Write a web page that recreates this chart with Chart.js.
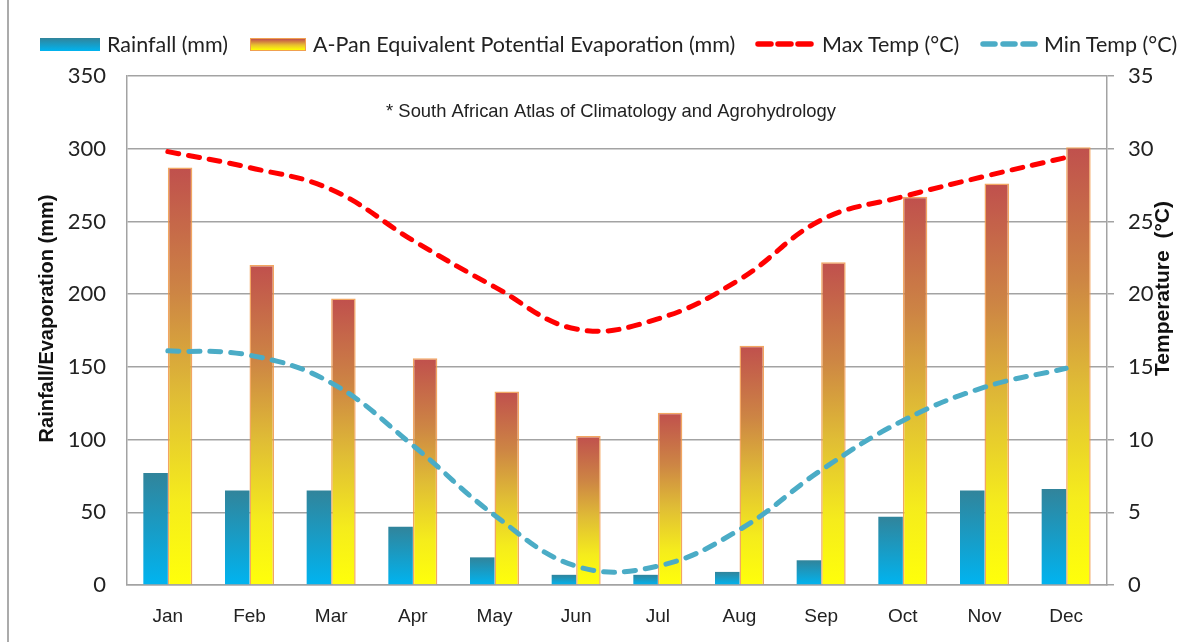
<!DOCTYPE html>
<html lang="en">
<head>
    <meta charset="UTF-8">
    <title>Rainfall, evaporation and temperature</title>
    <script src="https://cdn.jsdelivr.net/npm/chart.js"></script>
    <style>
        body {
            margin: 0;
            background: #fff;
        }
        .wrap {
            position: relative;
            width: 1182px;
            height: 642px;
            overflow: hidden;
        }
        .frame {
            position: absolute;
            left: 7px;
            top: 0;
            width: 2px;
            height: 642px;
            background: #ababab;
        }
        .legend .item {
            position: absolute;
            top: 31px;
            display: flex;
            align-items: center;
            font-family: Lato, sans-serif;
            font-size: 21.5px;
            color: #222;
            white-space: nowrap;
        }
        .legend .box {
            width: 60px;
            height: 13px;
            margin-right: 7px;
        }
        .legend svg {
            margin-right: 7px;
        }
        #chart {
            position: absolute;
            left: 0;
            top: 0;
        }
    </style>
</head>
<body>
    <div class="wrap">
        <div class="frame"></div>
        <canvas id="chart" width="1182" height="642"></canvas>
        <div class="legend">
            <div class="item" style="left: 40px;">
                <div class="box" style="background: linear-gradient(#31849b, #00b4f0);"></div>
                <span>Rainfall (mm)</span>
            </div>
            <div class="item" style="left: 250px;">
                <div class="box" style="width: 56px; background: linear-gradient(#c0504d, #e8c030 55%, #ffff00); border: 1px solid #f0a050; box-sizing: border-box;"></div>
                <span>A-Pan Equivalent Potential Evaporation (mm)</span>
            </div>
            <div class="item" style="left: 755px;">
                <svg width="60" height="12"><line x1="3" y1="6" x2="57" y2="6" stroke="#ff0000" stroke-width="5.5" stroke-linecap="round" stroke-dasharray="13 7"/></svg>
                <span>Max Temp (°C)</span>
            </div>
            <div class="item" style="left: 980px;">
                <svg width="58" height="12" style="margin-right: 6px;"><line x1="3" y1="6" x2="55" y2="6" stroke="#4bacc6" stroke-width="5.5" stroke-linecap="round" stroke-dasharray="12 8"/></svg>
                <span>Min Temp (°C)</span>
            </div>
        </div>
    </div>
    <script>
        const months = ['Jan', 'Feb', 'Mar', 'Apr', 'May', 'Jun', 'Jul', 'Aug', 'Sep', 'Oct', 'Nov', 'Dec'];
        const rainfall = [77, 65, 65, 40, 19, 7, 7, 9, 17, 47, 65, 66];
        const evaporation = [287, 220, 197, 156, 133, 102.5, 118.5, 164.5, 222, 267, 276, 301];
        const maxTemp = [29.8, 28.7, 27.2, 23.7, 20.5, 17.6, 18.3, 21.0, 25.1, 26.7, 28.1, 29.4];
        const minTemp = [16.1, 15.8, 13.9, 9.6, 4.8, 1.3, 1.3, 3.8, 7.9, 11.3, 13.6, 14.9];

        const leftTitle = 'Rainfall/Evaporation (mm)';
        const rightTitle = 'Temperature  (°C)';
        const note = '* South African Atlas of Climatology and Agrohydrology';

        // gradient runs from the top of each bar down to zero
        function barGradient(context, stops) {
            const chart = context.chart;
            if (!chart.chartArea || context.parsed == null) return stops[stops.length - 1][1];
            const y = chart.scales.y;
            const g = chart.ctx.createLinearGradient(0, y.getPixelForValue(context.parsed.y), 0, y.getPixelForValue(0));
            stops.forEach(s => g.addColorStop(s[0], s[1]));
            return g;
        }

        const rainStops = [[0, '#31849b'], [1, '#00b4f0']];
        const evapStops = [[0, '#c0504d'], [0.3, '#cd8544'], [0.55, '#e0bd35'], [0.8, '#f5ec1c'], [1, '#ffff0a']];

        const textPlugin = {
            id: 'textPlugin',
            afterDraw(chart) {
                const { ctx, chartArea } = chart;
                ctx.save();
                ctx.fillStyle = '#111';
                ctx.textAlign = 'center';
                ctx.textBaseline = 'middle';
                ctx.font = 'bold 20px "Liberation Sans"';
                ctx.save();
                ctx.translate(chartArea.left - 80, (chartArea.top + chartArea.bottom) / 2 - 12);
                ctx.rotate(-Math.PI / 2);
                ctx.fillText(leftTitle, 0, 0);
                ctx.restore();
                ctx.save();
                ctx.font = 'bold 21px "Liberation Sans"';
                ctx.translate(chartArea.right + 56, (chartArea.top + chartArea.bottom) / 2 - 42);
                ctx.rotate(-Math.PI / 2);
                ctx.fillText(rightTitle, 0, 0);
                ctx.restore();
                ctx.font = '18.4px "Liberation Sans"';
                ctx.fillStyle = '#222';
                ctx.fillText(note, (chartArea.left + chartArea.right) / 2 - 6, chartArea.top + 36);
                ctx.restore();
            }
        };

        const gridGrey = '#a3a3a3';

        new Chart(document.getElementById('chart'), {
            type: 'bar',
            data: {
                labels: months,
                datasets: [{
                    label: 'Max Temp (°C)',
                    type: 'line',
                    data: maxTemp,
                    yAxisID: 'y1',
                    borderColor: '#ff0000',
                    borderWidth: 5,
                    borderDash: [11, 10],
                    borderCapStyle: 'round',
                    tension: 0.4,
                    pointRadius: 0,
                    fill: false,
                    order: 1
                }, {
                    label: 'Min Temp (°C)',
                    type: 'line',
                    data: minTemp,
                    yAxisID: 'y1',
                    borderColor: '#4bacc6',
                    borderWidth: 5,
                    borderDash: [11, 10],
                    borderCapStyle: 'round',
                    tension: 0.4,
                    pointRadius: 0,
                    fill: false,
                    order: 1
                }, {
                    label: 'Rainfall (mm)',
                    data: rainfall,
                    yAxisID: 'y',
                    backgroundColor: ctx => barGradient(ctx, rainStops),
                    borderWidth: 0,
                    categoryPercentage: 0.6,
                    barPercentage: 1,
                    order: 2
                }, {
                    label: 'A-Pan Equivalent Potential Evaporation (mm)',
                    data: evaporation,
                    yAxisID: 'y',
                    backgroundColor: ctx => barGradient(ctx, evapStops),
                    borderColor: 'rgba(240, 150, 70, 0.85)',
                    borderWidth: 1.5,
                    categoryPercentage: 0.6,
                    barPercentage: 1,
                    order: 2
                }]
            },
            options: {
                responsive: false,
                animation: false,
                layout: { padding: { top: 76, left: 0, right: 0, bottom: 0 } },
                plugins: {
                    legend: { display: false },
                    tooltip: { enabled: false }
                },
                scales: {
                    x: {
                        grid: { drawOnChartArea: false, drawTicks: false },
                        border: { color: gridGrey, width: 1.5 },
                        ticks: {
                            padding: 20,
                            color: '#222',
                            font: { family: '"Liberation Sans"', size: 19 }
                        },
                        afterFit: s => { s.height = 57; }
                    },
                    y: {
                        position: 'left',
                        min: 0,
                        max: 350,
                        ticks: {
                            stepSize: 50,
                            padding: 21,
                            color: '#222',
                            font: { family: 'Lato', size: 22 }
                        },
                        grid: { color: gridGrey, lineWidth: 1.5, drawTicks: false },
                        border: { color: gridGrey, width: 1.5 },
                        afterFit: s => { s.width = 127; }
                    },
                    y1: {
                        position: 'right',
                        min: 0,
                        max: 35,
                        ticks: {
                            stepSize: 5,
                            padding: 14,
                            color: '#222',
                            font: { family: 'Lato', size: 22 }
                        },
                        grid: { drawOnChartArea: false, color: gridGrey, lineWidth: 1.5, tickLength: 7 },
                        border: { color: gridGrey, width: 1.5 },
                        afterFit: s => { s.width = 75; }
                    }
                }
            },
            plugins: [textPlugin]
        });
    </script>
</body>
</html>
